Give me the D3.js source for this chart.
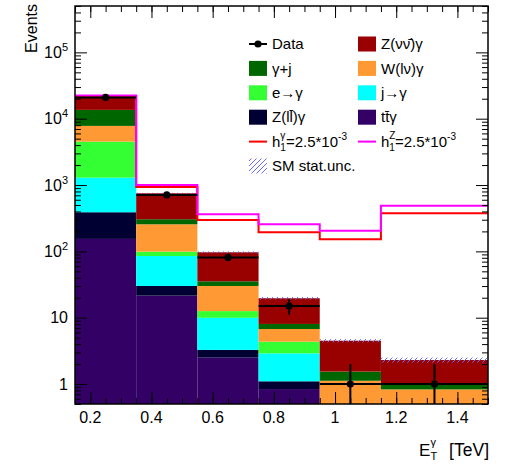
<!DOCTYPE html>
<html>
<head>
<meta charset="utf-8">
<script src="https://cdn.jsdelivr.net/npm/d3@7"></script>
<style>
  body { margin: 0; background: #fff; }
  text { font-family: "Liberation Sans", Arial, sans-serif; }
</style>
</head>
<body>
<div id="main"></div>
<script>
// bins in E_T^gamma [TeV]
const binEdges = [0.15, 0.35, 0.55, 0.75, 0.95, 1.15, 1.5];

// SM backgrounds, stacked bottom -> top
const ttGamma    = [154, 21.5, 2.5, 0.84, 0, 0];
const zllGamma   = [235, 8.6, 0.77, 0.26, 0, 0];
const jetFake    = [903, 55, 6.7, 1.8, 0, 0];
const eleFake    = [3220, 14, 2.6, 1.45, 0, 0];
const wlnuGamma  = [3280, 157, 17.5, 2.4, 1.12, 0.83];
const gammaJet   = [5790, 49, 5.3, 1.3, 0.42, 0.14];
const znunuGamma = [7920, 447, 61.5, 11.6, 2.96, 1.33];

const statUnc = [150, 12, 3, 0.8, 0.25, 0.2];
const dataCounts = [20900, 710, 81, 15, 1, 1];

// aTGC signal hypotheses
const h1Gamma = [21800, 936, 298, 194, 152, 376];
const h1Z     = [22300, 1003, 363, 256, 205, 489];

const xMajor = [0.2, 0.4, 0.6, 0.8, 1.0, 1.2, 1.4];
const yMajor = [1, 10, 100, 1000, 10000, 100000];

const w = 508;
const h = 470;

const x = d3.scaleLinear().domain([0.15, 1.5]).range([75, 488]);
const y = d3.scaleLog().domain([0.5, 5e5]).range([404, 6]).clamp(true);

const keys = ['tt', 'zll', 'jet', 'ele', 'wlnu', 'gj', 'znunu'];
const series = [ttGamma, zllGamma, jetFake, eleFake, wlnuGamma, gammaJet, znunuGamma];
const colors = {
    tt: '#330066', zll: '#000033', jet: '#00ffff', ele: '#33ff33',
    wlnu: '#ff9933', gj: '#006600', znunu: '#990000'
};

const rows = dataCounts.map((n, i) => {
    const r = {bin: i};
    keys.forEach((k, j) => r[k] = series[j][i]);
    return r;
});
const stacked = d3.stack().keys(keys)(rows);

const svg = d3.select('#main')
    .append('svg')
    .attr('width', w)
    .attr('height', h);

const defs = svg.append('defs');
defs.append('clipPath').attr('id', 'frame')
    .append('rect')
    .attr('x', x.range()[0]).attr('y', y.range()[1])
    .attr('width', x.range()[1] - x.range()[0])
    .attr('height', y.range()[0] - y.range()[1]);

defs.append('pattern')
    .attr('id', 'hatch')
    .attr('patternUnits', 'userSpaceOnUse')
    .attr('width', 5).attr('height', 5)
    .append('path')
    .attr('d', 'M-1,1 l2,-2 M0,5 l5,-5 M4,6 l2,-2')
    .attr('stroke', '#6a6aff')
    .attr('stroke-width', 1);

const plot = svg.append('g').attr('clip-path', 'url(#frame)');

// stacked histogram
stacked.forEach(layer => {
    plot.append('g')
        .selectAll('rect')
        .data(layer.filter(d => d[1] - d[0] > 0))
        .enter()
        .append('rect')
        .attr('x', d => x(binEdges[d.data.bin]))
        .attr('width', d => x(binEdges[d.data.bin + 1]) - x(binEdges[d.data.bin]))
        .attr('y', d => y(d[1]))
        .attr('height', d => y(d[0] > 0 ? d[0] : 0.5) - y(d[1]))
        .attr('fill', colors[layer.key]);
});

// stat. uncertainty band
const totals = rows.map((r, i) => d3.sum(keys, k => r[k]));
plot.append('g')
    .selectAll('rect')
    .data(totals)
    .enter()
    .append('rect')
    .attr('x', (d, i) => x(binEdges[i]))
    .attr('width', (d, i) => x(binEdges[i + 1]) - x(binEdges[i]))
    .attr('y', (d, i) => y(d + statUnc[i]))
    .attr('height', (d, i) => y(d - statUnc[i]) - y(d + statUnc[i]))
    .attr('fill', 'url(#hatch)');

// signal step lines
const stepLine = d3.line()
    .x(d => x(d[0]))
    .y(d => y(d[1]))
    .curve(d3.curveStepAfter);

[[h1Gamma, '#ff0000'], [h1Z, '#ff00ff']].forEach(([vals, col]) => {
    const pts = vals.map((v, i) => [binEdges[i], v]);
    pts.push([binEdges[binEdges.length - 1], vals[vals.length - 1]]);
    plot.append('path')
        .datum(pts)
        .attr('d', stepLine)
        .attr('fill', 'none')
        .attr('stroke', col)
        .attr('stroke-width', 2);
});

// data points
const dataG = plot.append('g');
dataCounts.forEach((n, i) => {
    const cx = x((binEdges[i] + binEdges[i + 1]) / 2);
    const err = Math.sqrt(n);
    dataG.append('line')
        .attr('x1', x(binEdges[i])).attr('x2', x(binEdges[i + 1]))
        .attr('y1', y(n)).attr('y2', y(n))
        .attr('stroke', 'black').attr('stroke-width', 2);
    dataG.append('line')
        .attr('x1', cx).attr('x2', cx)
        .attr('y1', y(n + err)).attr('y2', y(n - err > 0 ? n - err : 0.5))
        .attr('stroke', 'black').attr('stroke-width', 2);
    dataG.append('circle')
        .attr('cx', cx).attr('cy', y(n)).attr('r', 3.6)
        .attr('fill', 'black');
});

// axes, ROOT style: ticks inside on all four sides
const xMinor = d3.range(0.15, 1.5001, 0.05).map(v => +v.toFixed(2));
const yMinor = [];
[0.1, 1, 10, 100, 1000, 10000, 100000].forEach(dec => {
    for (let m = 2; m <= 9; m++) {
        const v = dec * m;
        if (v >= 0.5 && v <= 5e5) yMinor.push(v);
    }
});

function drawAxis(axis, tx, ty) {
    const g = svg.append('g')
        .attr('transform', `translate(${tx},${ty})`)
        .call(axis);
    g.select('.domain').remove();
    g.selectAll('text').remove();
    g.selectAll('line').attr('stroke', 'black');
}

drawAxis(d3.axisBottom(x).tickValues(xMajor).tickSize(-12).tickSizeOuter(0), 0, 404);
drawAxis(d3.axisBottom(x).tickValues(xMinor).tickSize(-6).tickSizeOuter(0), 0, 404);
drawAxis(d3.axisTop(x).tickValues(xMajor).tickSize(-12).tickSizeOuter(0), 0, 6);
drawAxis(d3.axisTop(x).tickValues(xMinor).tickSize(-6).tickSizeOuter(0), 0, 6);
drawAxis(d3.axisLeft(y).tickValues(yMajor).tickSize(-12).tickSizeOuter(0), 75, 0);
drawAxis(d3.axisLeft(y).tickValues(yMinor).tickSize(-6).tickSizeOuter(0), 75, 0);
drawAxis(d3.axisRight(y).tickValues(yMajor).tickSize(-12).tickSizeOuter(0), 488, 0);
drawAxis(d3.axisRight(y).tickValues(yMinor).tickSize(-6).tickSizeOuter(0), 488, 0);

svg.append('rect')
    .attr('x', 75).attr('y', 6)
    .attr('width', 413).attr('height', 398)
    .attr('fill', 'none')
    .attr('stroke', 'black')
    .attr('stroke-width', 1.5);

// tick labels
svg.append('g')
    .selectAll('text')
    .data(xMajor)
    .enter()
    .append('text')
    .attr('x', d => x(d))
    .attr('y', 423)
    .attr('text-anchor', 'middle')
    .style('font-size', '16px')
    .text(d => d3.format('~g')(d));

const yLab = svg.append('g')
    .selectAll('text')
    .data(yMajor)
    .enter()
    .append('text')
    .attr('x', 68)
    .attr('y', d => y(d) + 5.8)
    .attr('text-anchor', 'end')
    .style('font-size', '16px');
yLab.filter(d => d < 100).text(d => d);
yLab.filter(d => d >= 100).each(function(d) {
    const t = d3.select(this);
    t.append('tspan').text('10');
    t.append('tspan').attr('dy', -7).style('font-size', '11px').text(Math.round(Math.log10(d)));
});

// axis titles
svg.append('text')
    .attr('transform', 'translate(37,4) rotate(-90)')
    .attr('text-anchor', 'end')
    .style('font-size', '16px')
    .text('Events');

svg.append('text').attr('x', 419).attr('y', 456).style('font-size', '17px').text('E');
svg.append('text').attr('x', 430.5).attr('y', 460).style('font-size', '11px').text('T');
svg.append('text').attr('x', 430.5).attr('y', 446).style('font-size', '11px').text('\u03b3');
svg.append('text').attr('x', 489).attr('y', 456).attr('text-anchor', 'end')
    .style('font-size', '17.5px').text('[TeV]');

// legend
const legendRows = [44, 68.4, 92.8, 117.2, 141.6, 166];
const col1 = 249, col2 = 358, boxW = 18, boxH = 15, textOff = 23;
const legend = svg.append('g').style('font-size', '15px');

function legendBox(cx, cy, fill) {
    legend.append('rect')
        .attr('x', cx).attr('y', cy - boxH / 2)
        .attr('width', boxW).attr('height', boxH)
        .attr('fill', fill);
}
function legendText(cx, cy, str) {
    return legend.append('text')
        .attr('x', cx + textOff).attr('y', cy + 5.2)
        .text(str);
}

// Data
legend.append('line')
    .attr('x1', col1).attr('x2', col1 + boxW)
    .attr('y1', legendRows[0]).attr('y2', legendRows[0])
    .attr('stroke', 'black').attr('stroke-width', 2);
legend.append('circle')
    .attr('cx', col1 + boxW / 2).attr('cy', legendRows[0]).attr('r', 3.6);
legendText(col1, legendRows[0], 'Data');

const boxEntries = [
    [col2, 0, 'znunu', 'Z(\u03bd\u03bd\u0304)\u03b3'],
    [col1, 1, 'gj', '\u03b3+j'],
    [col2, 1, 'wlnu', 'W(l\u03bd)\u03b3'],
    [col1, 2, 'ele', 'e\u2192\u03b3'],
    [col2, 2, 'jet', 'j\u2192\u03b3'],
    [col1, 3, 'zll', 'Z(ll\u0304)\u03b3'],
    [col2, 3, 'tt', 'tt\u0304\u03b3']
];
boxEntries.forEach(([cx, r, k, label]) => {
    legendBox(cx, legendRows[r], colors[k]);
    legendText(cx, legendRows[r], label);
});

[[col1, '#ff0000', '\u03b3'], [col2, '#ff00ff', 'Z']].forEach(([cx, col, sup]) => {
    const cy = legendRows[4];
    legend.append('line')
        .attr('x1', cx).attr('x2', cx + boxW)
        .attr('y1', cy).attr('y2', cy)
        .attr('stroke', col).attr('stroke-width', 2);
    const t = legendText(cx, cy, 'h');
    t.append('tspan').attr('dy', 4).style('font-size', '10px').text('1');
    t.append('tspan').attr('dy', -4).text('=2.5*10');
    t.append('tspan').attr('dy', -7).style('font-size', '10px').text('-3');
    legend.append('text')
        .attr('x', cx + textOff + 8.3).attr('y', cy - 3)
        .style('font-size', '10px')
        .text(sup);
});

legendBox(col1, legendRows[5], 'url(#hatch)');
legendText(col1, legendRows[5], 'SM stat.unc.');
</script>
</body>
</html>
